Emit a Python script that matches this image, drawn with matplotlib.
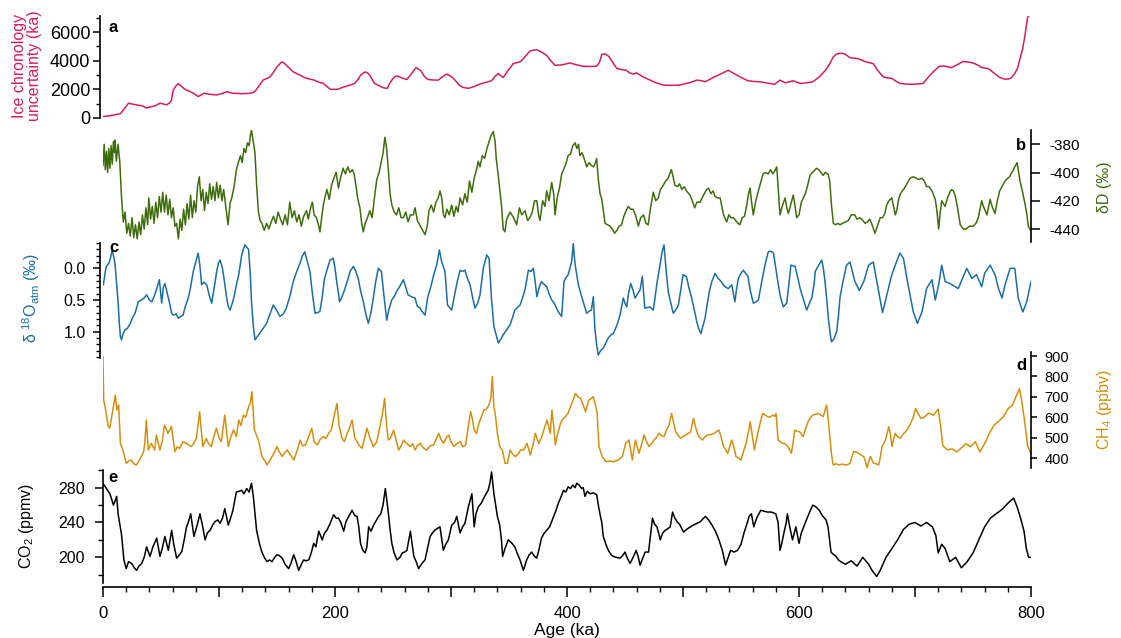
import numpy as np
import matplotlib
matplotlib.use('Agg')
import matplotlib.pyplot as plt
from matplotlib.ticker import MultipleLocator, FixedLocator, FuncFormatter

plt.rcParams['font.family'] = ['Liberation Sans', 'DejaVu Sans']
plt.rcParams['mathtext.default'] = 'regular'
plt.rcParams['axes.unicode_minus'] = False

# ---------------- data ----------------
unc_age = [0, 5, 10, 15, 18, 22, 26, 30, 34, 37.6, 41, 45, 49, 52, 55, 58, 59, 60.6, 63, 65,
           67, 70, 72, 75, 78, 82, 85, 87, 92, 98, 103, 107, 112, 120, 127, 130, 132, 135, 138, 141,
           144, 147, 150, 154, 156, 158, 161, 164, 167, 170, 173, 176, 179, 182, 186, 190, 193, 196, 202, 207,
           213, 217, 220, 222, 226, 228, 230, 232, 234, 238, 242, 245, 247, 249, 252, 255, 258, 262, 266, 270,
           274, 277, 280, 285, 289, 293, 296, 298, 300.6, 304, 307, 310, 315, 320, 325, 330, 335, 338, 340.7, 343,
           345, 349, 353.7, 356, 359.5, 363, 368, 371, 374, 378, 382.5, 386, 389.7, 395, 402.6, 408, 414, 420, 425.6, 428,
           430, 433, 436, 440, 443, 447, 451, 454, 457, 460, 465, 471.5, 477, 483, 490, 497, 505, 512, 516, 519,
           522, 526, 532, 539, 544, 549, 556, 561, 566, 572, 579, 583.6, 588, 592, 595, 601, 606, 612, 618, 624,
           627, 629.5, 632, 635.6, 638, 640, 644, 651, 658, 664, 668, 672.6, 676, 680, 684, 687, 692, 698, 703, 707,
           712, 716, 718.7, 721, 724, 728, 731.6, 736, 741.6, 746, 750, 754, 757.5, 763, 768, 773, 777, 780, 783, 786,
           788.5, 790.5, 793, 795, 797, 797.8]
unc_val = [100, 150, 220, 300, 600, 1035, 960, 900, 850, 690, 780, 850, 1035, 980, 920, 1100, 1265, 1955, 2250, 2400,
           2250, 2050, 1955, 1850, 1725, 1500, 1620, 1725, 1650, 1610, 1720, 1840, 1725, 1700, 1725, 1800, 1955, 2300, 2645, 2750,
           2875, 3200, 3565, 3910, 3850, 3680, 3450, 3220, 3100, 2990, 2850, 2760, 2700, 2645, 2500, 2415, 2200, 2000, 2000, 2150,
           2300, 2415, 2700, 2990, 3220, 3150, 2990, 2700, 2415, 2250, 2100, 2070, 2400, 2645, 2920, 2900, 2780, 2690, 3100, 3520,
           3300, 2900, 2690, 2650, 2645, 2900, 3060, 3000, 2875, 2600, 2300, 2140, 2070, 2200, 2370, 2480, 2600, 2900, 3105, 2950,
           2830, 3300, 3795, 3850, 3910, 4200, 4670, 4740, 4760, 4600, 4370, 4000, 3680, 3700, 3840, 3720, 3610, 3600, 3610, 3900,
           4440, 4470, 4300, 3800, 3450, 3380, 3335, 3150, 3060, 3150, 2900, 2645, 2450, 2300, 2280, 2300, 2450, 2645, 2600, 2530,
           2650, 2830, 3050, 3335, 3100, 2875, 2600, 2550, 2530, 2450, 2350, 2645, 2460, 2530, 2600, 2415, 2450, 2530, 2900, 3450,
           3850, 4255, 4450, 4530, 4500, 4440, 4210, 4140, 3910, 3795, 3300, 2875, 2800, 2760, 2550, 2415, 2370, 2350, 2380, 2415,
           2900, 3250, 3450, 3600, 3635, 3580, 3520, 3700, 3955, 3900, 3840, 3700, 3520, 3450, 3150, 2830, 2720, 2715, 2800, 3105,
           3500, 4140, 4900, 5865, 7015, 7100]

dD_age = [0, 1, 2, 3, 4, 5, 6, 7, 8, 9, 10, 10.5, 11.5, 13, 14.5, 16, 17.5, 19, 20.5, 22,
          23.5, 25, 26.5, 28, 29.5, 31, 32.5, 34, 35.5, 37, 38.5, 39.5, 41, 42.5, 44, 45.5, 47, 48.5, 50, 51.5,
          53, 54.5, 56, 57.5, 59, 60.5, 62, 63.5, 65, 66.5, 68, 69.5, 71, 72.5, 74, 75.5, 77, 78.5, 80, 81.5,
          83, 84.5, 86, 87.5, 89, 90.5, 92, 93.5, 95, 96.5, 98, 99.5, 101, 102.5, 104, 106, 107.8, 109.5, 111, 113,
          115, 117, 118.5, 120, 121.5, 123, 124.5, 126, 127, 128, 129.5, 131, 132.5, 134, 135.5, 137, 139, 141, 143, 145,
          147, 149, 151, 153, 155, 157, 159, 161, 163, 165, 167, 169, 171, 173, 175.5, 177, 179, 180.5, 182, 184,
          186, 187, 188.5, 190, 191.5, 193, 195, 197, 199, 201, 203, 205, 207, 209, 211, 213, 215, 216.5, 218, 219.5,
          221.5, 223, 224.4, 226, 228, 230, 232, 234, 236, 238, 240, 241.5, 243, 244.5, 246, 247.5, 249, 251, 253, 255,
          257, 259, 261, 263, 265, 267.5, 269, 271, 273, 275, 277.6, 279.5, 281, 283, 285, 287, 289, 290.5, 292, 293.5,
          294.8, 296.5, 298.5, 300.6, 302.5, 304.5, 306, 307.8, 310, 312, 314, 316, 318, 320, 322, 323.5, 325, 327, 329, 331,
          333.6, 335, 336.5, 338, 339, 341, 343.7, 345, 346.5, 348, 351, 354, 356.6, 359, 361, 363.8, 366, 368, 370, 372,
          374, 375.5, 376.7, 379, 381, 382.5, 384.5, 386.8, 388.5, 389.7, 391.5, 393.5, 395.4, 397, 399, 401, 403, 405, 407, 408.5,
          410, 411, 413, 415.5, 417, 419, 421, 423, 424.5, 425.6, 427, 428.5, 430, 431.5, 432.8, 435, 437, 439, 441, 443,
          445, 447, 449, 451, 452.8, 455, 457, 459, 461.5, 463.5, 466, 468, 470, 472, 474.4, 476.5, 478.7, 480.5, 483, 485,
          487.3, 489, 490, 491.5, 493, 495.5, 497, 499, 501, 503, 506, 508, 510, 512, 514.7, 517, 519, 520.5, 522, 524,
          526, 527.6, 530, 532, 533.5, 535, 536.5, 537.7, 539.5, 541.5, 543.4, 545.5, 547.5, 549, 551, 553, 555, 556.5, 557.8, 559,
          560.6, 562.5, 565, 567, 569, 571, 573.5, 575.5, 577.5, 579, 580.8, 581.5, 583.6, 585.5, 588, 589.5, 590.8, 592.5, 595, 596.5,
          598, 600, 602, 603.7, 605.5, 607.5, 609.5, 611.5, 613, 615, 617, 619, 620.9, 622.5, 625, 626.5, 628, 629.6, 631.5, 633.5,
          635.4, 637.5, 640, 642.5, 645, 648, 650, 652.6, 655, 657, 659, 661, 663, 665.5, 667.5, 670, 672, 674, 675.6, 677.5,
          680, 681.5, 683, 684.5, 685.6, 687, 689, 691, 693, 695.7, 698.6, 701, 703, 706, 708, 710, 712, 714.6, 716, 717.5,
          719, 720.4, 721.5, 723, 724.5, 726, 728, 730, 731.6, 733, 734.5, 736.5, 739, 741.6, 744, 747, 750, 752.5, 754.6, 756,
          757.5, 759, 762, 763.5, 764.7, 766.5, 769, 771, 773, 775, 777.6, 780, 781.5, 783.4, 785, 786, 788, 789, 790.5, 792.5,
          795, 796.5, 797.7, 799, 800]
dD_val = [-395, -380, -398, -385, -400, -383, -397, -381, -394, -378, -386, -377, -392, -380, -393, -418, -435, -428, -443, -436,
          -445, -432, -446, -437, -447, -435, -444, -430, -440, -425, -437, -418, -433, -424, -436, -421, -432, -417, -428, -414,
          -428, -416, -430, -419, -432, -425, -438, -436, -447, -433, -441, -426, -437, -422, -433, -416, -432, -420, -428, -410,
          -403, -420, -412, -427, -414, -422, -408, -419, -410, -420, -407, -418, -409, -420, -412, -425, -437, -422, -418, -410,
          -398, -392, -388, -393, -383, -386, -379, -381, -374, -370, -378, -386, -410, -428, -434, -436, -441, -436, -440, -435,
          -431, -436, -428, -433, -437, -430, -437, -421, -432, -427, -435, -430, -438, -431, -427, -433, -425, -421, -430, -432,
          -438, -442, -432, -423, -417, -412, -419, -409, -404, -400, -411, -403, -397, -401, -396, -400, -398, -401, -409, -418,
          -425, -436, -442, -436, -432, -427, -432, -418, -405, -400, -392, -386, -375, -383, -398, -415, -423, -428, -430, -425,
          -432, -432, -428, -435, -430, -430, -425, -434, -437, -440, -444, -438, -427, -423, -428, -421, -418, -413, -418, -430,
          -432, -426, -430, -423, -431, -424, -428, -418, -423, -415, -421, -406, -414, -404, -398, -392, -396, -388, -390, -383,
          -376, -373, -371, -378, -390, -404, -425, -440, -442, -433, -428, -432, -437, -425, -430, -427, -434, -432, -428, -420,
          -420, -430, -434, -420, -424, -413, -420, -407, -415, -430, -418, -411, -401, -398, -394, -388, -387, -381, -379, -383,
          -380, -388, -386, -392, -396, -393, -395, -396, -393, -390, -405, -415, -419, -428, -436, -437, -438, -440, -443, -441,
          -438, -437, -431, -427, -424, -426, -426, -430, -438, -432, -430, -436, -437, -425, -414, -420, -418, -412, -409, -406,
          -404, -400, -398, -403, -409, -410, -408, -412, -410, -413, -416, -420, -425, -421, -421, -417, -414, -412, -411, -415,
          -413, -417, -418, -418, -424, -430, -433, -435, -430, -432, -432, -434, -436, -437, -432, -431, -423, -415, -411, -420,
          -430, -421, -413, -407, -401, -400, -401, -398, -401, -399, -396, -404, -430, -424, -418, -425, -429, -424, -416, -423,
          -432, -430, -421, -418, -415, -409, -402, -400, -399, -397, -398, -400, -402, -400, -401, -406, -423, -436, -437, -436,
          -437, -436, -435, -434, -430, -430, -433, -432, -434, -436, -435, -433, -437, -443, -438, -432, -432, -429, -423, -420,
          -418, -424, -430, -426, -420, -416, -413, -411, -408, -404, -403, -404, -405, -404, -406, -410, -410, -413, -416, -419,
          -428, -440, -430, -420, -422, -424, -418, -414, -412, -413, -416, -424, -437, -440, -440, -438, -438, -436, -432, -426,
          -420, -424, -430, -424, -419, -424, -429, -420, -413, -410, -406, -404, -403, -400, -398, -396, -393, -398, -406, -413,
          -423, -430, -438, -440, -441]

d18O_age = [0.3, 2, 3, 5, 6, 8, 9, 10.3, 11.5, 13, 14, 15, 16, 17, 19, 21, 23, 25.5, 27.6, 29,
            30.5, 33, 35.5, 37.6, 40, 42, 44, 46, 48.6, 50.6, 52, 53.4, 55.5, 57.8, 59, 60.6, 63, 65, 67, 69,
            71, 73.5, 75.5, 77.8, 80, 82, 83.5, 85, 87, 89.4, 91.5, 93.7, 95.5, 98, 99.5, 100.9, 103, 105, 106.6, 108,
            109.5, 111.5, 113, 115, 117, 119.6, 121, 122.4, 124, 125.5, 127, 128, 129.5, 131, 133, 135, 138, 141, 144, 146.8,
            149.5, 152.6, 155.5, 158, 161, 164, 167, 169.8, 172, 174, 176, 178.4, 180.5, 182.8, 185, 187, 189, 191, 193.5, 195.7,
            198.5, 200, 201.5, 204, 206, 208.6, 211, 213, 215.8, 218, 220, 222, 224.4, 226.5, 228.7, 231, 233, 235, 237.3, 240,
            242, 244.6, 246.5, 248.9, 251, 253, 256, 259, 261, 263, 266, 269, 271, 273, 275, 277.6, 280, 282.5, 284.7, 287.6,
            290, 292, 294.8, 297, 300.6, 303.4, 305.5, 307.8, 310, 312, 314, 316.4, 318.5, 320.7, 323, 325, 327.8, 330.8, 332.8, 335,
            337, 340.8, 343, 345, 348, 351, 353, 355, 359.5, 362, 364, 366.7, 369, 371, 372.5, 374, 376, 378, 380, 382.5,
            384.5, 386.8, 389, 391, 393, 395.4, 396.5, 397.4, 399, 401, 402.5, 404, 405.4, 406.5, 407.5, 409.8, 412, 414, 417, 419,
            421, 422.7, 424, 425.5, 427, 429, 431.3, 433.5, 435.6, 438, 440, 443, 445.7, 448.5, 450, 451.5, 453, 455, 457, 458.6,
            461, 463, 465, 467, 469, 471.5, 474.4, 476, 477.3, 480, 482, 483.6, 485.3, 487.3, 489.5, 491.6, 494, 496, 498, 500,
            503, 505, 507.5, 510, 511.8, 513.5, 515.5, 517, 519, 521, 523, 525, 527.6, 530.4, 532.5, 534.7, 537, 539, 542, 544.8,
            546, 547.7, 550, 552, 554, 556, 558, 560.6, 563, 565, 567, 569, 571, 573.5, 576, 578, 580, 582, 584, 586.5,
            589.4, 591, 593, 596.6, 599, 601, 604, 606.6, 609, 611, 613, 614, 617, 619.6, 621, 622.4, 624, 625.3, 627, 628,
            630, 632.5, 634, 635.4, 638, 641, 644, 648, 652, 656, 660, 664, 668, 672, 676, 680, 684, 687, 690, 694,
            698.6, 702, 706, 710, 714.6, 717.5, 720.4, 723, 726, 730, 737.3, 741.6, 744.6, 749, 753, 757.5, 760, 764.7, 769, 772,
            775, 777.6, 782, 786, 789, 793, 796.3, 800]
d18O_val = [0.26, 0.05, -0.03, -0.08, -0.13, -0.29, -0.2, -0.08, 0.2, 0.53, 0.85, 1.08, 1.13, 1.05, 0.97, 0.95, 0.89, 0.78, 0.71, 0.62,
            0.53, 0.5, 0.47, 0.42, 0.5, 0.53, 0.45, 0.34, 0.18, 0.55, 0.3, 0.24, 0.4, 0.58, 0.7, 0.74, 0.72, 0.79, 0.76, 0.74,
            0.6, 0.47, 0.3, 0.05, -0.1, -0.24, -0.05, 0.26, 0.22, 0.26, 0.42, 0.55, 0.35, 0.05, -0.08, -0.13, 0.0, 0.25, 0.47, 0.6,
            0.66, 0.55, 0.45, 0.26, 0.1, -0.21, -0.3, -0.37, -0.33, -0.3, 0.1, 0.53, 0.9, 1.13, 1.08, 1.03, 0.95, 0.87, 0.72, 0.58,
            0.66, 0.76, 0.72, 0.63, 0.45, 0.21, 0.05, -0.08, -0.2, -0.26, -0.12, 0.05, 0.4, 0.71, 0.7, 0.68, 0.45, 0.16, 0.0, -0.13,
            -0.16, 0.0, 0.21, 0.53, 0.45, 0.32, 0.18, 0.05, -0.03, 0.05, 0.16, 0.35, 0.53, 0.72, 0.87, 0.7, 0.47, 0.22, 0.0, 0.05,
            0.4, 0.82, 0.65, 0.5, 0.45, 0.37, 0.28, 0.18, 0.3, 0.42, 0.45, 0.47, 0.6, 0.62, 0.68, 0.74, 0.45, 0.3, 0.13, -0.05,
            -0.29, -0.1, 0.05, 0.58, 0.66, 0.39, 0.2, 0.03, 0.05, 0.03, 0.15, 0.26, 0.45, 0.63, 0.55, 0.42, 0.0, -0.21, -0.16, 0.5,
            0.92, 1.18, 1.12, 1.05, 0.97, 0.89, 0.78, 0.66, 0.58, 0.45, 0.32, 0.03, 0.05, 0.0, 0.2, 0.45, 0.3, 0.21, 0.25, 0.29,
            0.4, 0.5, 0.55, 0.63, 0.7, 0.76, 0.45, 0.21, 0.15, 0.1, 0.0, -0.1, -0.39, -0.15, 0.0, 0.26, 0.4, 0.53, 0.71, 0.68,
            0.66, 0.45, 0.95, 1.2, 1.37, 1.3, 1.26, 1.18, 1.1, 1.05, 1.03, 0.9, 0.74, 0.47, 0.55, 0.61, 0.4, 0.24, 0.35, 0.47,
            0.4, 0.34, 0.13, 0.63, 0.62, 0.61, 0.66, 0.45, 0.26, -0.03, -0.26, -0.37, 0.0, 0.37, 0.55, 0.71, 0.65, 0.58, 0.35, 0.1,
            0.13, 0.3, 0.47, 0.68, 0.84, 0.95, 1.03, 0.92, 0.79, 0.55, 0.34, 0.2, 0.08, 0.16, 0.2, 0.26, 0.3, 0.32, 0.26, 0.53,
            0.35, 0.16, 0.08, 0.03, 0.08, 0.13, 0.35, 0.55, 0.53, 0.5, 0.3, 0.1, -0.08, -0.26, -0.27, -0.24, 0.0, 0.24, 0.45, 0.61,
            0.55, 0.3, -0.05, -0.03, 0.15, 0.32, 0.5, 0.66, 0.55, 0.47, 0.25, 0.05, -0.05, -0.13, 0.0, 0.21, 0.5, 0.79, 1.05, 1.16,
            1.12, 1.0, 0.75, 0.45, 0.2, -0.05, -0.1, 0.2, 0.35, 0.2, -0.05, -0.1, 0.3, 0.7, 0.4, 0.1, -0.1, -0.24, -0.16, 0.26,
            0.69, 0.87, 0.69, 0.32, 0.18, 0.5, 0.26, -0.05, 0.21, 0.24, 0.32, 0.13, 0.0, 0.16, 0.1, 0.29, 0.08, -0.05, 0.1, 0.32,
            0.47, 0.26, 0.0, 0.0, 0.47, 0.69, 0.53, 0.21]

ch4_age = [0, 0.6, 2.3, 4.3, 5.7, 8, 10.6, 12, 13.5, 15, 17.2, 20, 22, 24.4, 26.5, 28.7, 31, 33, 35, 36,
           37.4, 39, 41.7, 44.6, 46, 49, 51, 53, 56, 59, 62, 64, 66, 69, 72, 76, 78, 80.5, 83.3, 86,
           89, 91, 93.4, 95.5, 97.7, 100, 102, 105, 108, 110, 112.6, 115, 117, 119, 121, 123, 125.6, 127, 128.4, 130.5,
           134, 137, 139, 141.4, 143.5, 145.7, 148, 150, 152, 154.5, 156.5, 158.8, 161, 164.5, 167, 170, 172, 174.6, 177, 180,
           182, 184.7, 187, 190, 192, 194.5, 197, 199, 201.7, 203.5, 206, 208, 210, 212, 214.7, 217, 219, 221, 223.4, 225.5,
           227.6, 230, 233, 236, 239, 241, 242.8, 244.5, 246, 248, 250.6, 253, 255, 257, 259, 262, 265, 267, 269, 271,
           273.5, 276, 279, 282, 285, 287, 289.4, 291.5, 293.7, 296, 298, 300, 302.5, 305, 308, 310, 312.6, 315.5, 317, 318.5,
           320, 322, 324, 326, 328.4, 330.5, 332.7, 334.5, 335.6, 337, 338.5, 340, 342, 344.3, 346.6, 348.6, 351, 353, 355.5, 358,
           360, 362.6, 365.5, 368.4, 370.5, 372.7, 375.6, 378, 380, 382.8, 385.6, 387, 388.5, 390, 392, 394.4, 396.5, 398.7, 401, 403,
           405, 407.3, 409.5, 411.6, 414, 416, 418.8, 420.5, 422.6, 424.5, 426, 427.5, 430.4, 433.3, 437, 440.5, 444, 447.7, 450.6, 453.4,
           456.3, 459, 462, 464, 466.4, 468.5, 470.7, 473, 475, 477, 479.3, 481.5, 483.6, 486, 488, 490.2, 492, 493.7, 496, 498,
           500, 502.3, 504.5, 506.6, 509, 510.5, 512.4, 514.5, 516.8, 519, 521, 524, 527, 529, 531, 533, 535, 536.8, 538.5, 540,
           542, 544, 545.7, 548, 550, 552, 554.4, 556.5, 558, 559.5, 561.5, 563, 564.4, 566.5, 568.7, 571, 573, 575, 577.3, 579,
           580.2, 582, 584, 586, 588, 590.5, 592, 593.4, 595, 596.3, 598.5, 600.6, 603.5, 605.5, 607.8, 610, 612, 614, 616.5, 619,
           620.9, 623.8, 625, 626.6, 628, 629.5, 632, 634, 637, 639.7, 642, 644, 647, 649, 651.5, 653.5, 655.7, 657, 658.6, 660,
           661.5, 663, 664.4, 666.5, 668.7, 670, 671.6, 673, 674.5, 676, 677.4, 679, 680.2, 681.5, 683, 685, 687.5, 689.5, 691.8, 694,
           696.2, 698.5, 700.5, 702.5, 705, 708, 712, 716, 720, 722, 724, 728, 732, 736, 740, 744, 748, 752, 756, 760,
           764, 768, 772, 776, 780, 784, 787, 790, 792, 795, 797, 800]
ch4_val = [897, 684, 635, 562, 546, 619, 709, 635, 660, 472, 439, 374, 385, 390, 372, 366, 385, 407, 430, 472,
           586, 439, 472, 439, 513, 439, 480, 562, 521, 554, 431, 455, 447, 480, 472, 456, 470, 496, 627, 456,
           496, 470, 456, 505, 546, 500, 480, 611, 456, 500, 538, 505, 586, 560, 611, 600, 652, 670, 725, 538,
           488, 407, 390, 366, 385, 407, 430, 456, 430, 407, 425, 439, 420, 390, 430, 488, 460, 464, 500, 546,
           480, 464, 490, 505, 495, 521, 540, 600, 668, 560, 497, 480, 513, 540, 586, 500, 480, 460, 448, 500,
           546, 500, 456, 480, 562, 620, 693, 560, 488, 500, 537, 480, 439, 460, 488, 470, 456, 470, 439, 460,
           472, 450, 439, 460, 464, 490, 521, 490, 472, 500, 513, 480, 456, 470, 480, 455, 464, 578, 627, 590,
           537, 520, 570, 600, 635, 640, 660, 700, 799, 652, 600, 521, 456, 439, 374, 374, 439, 420, 407, 420,
           440, 439, 472, 415, 460, 521, 472, 500, 537, 586, 521, 635, 560, 464, 520, 570, 590, 603, 620, 652,
           680, 717, 700, 693, 660, 627, 684, 690, 701, 660, 619, 456, 407, 382, 385, 382, 390, 407, 472, 488,
           390, 488, 423, 460, 513, 480, 456, 470, 488, 500, 521, 510, 505, 540, 562, 619, 570, 529, 510, 497,
           505, 513, 520, 529, 595, 560, 521, 500, 488, 505, 513, 515, 521, 530, 537, 500, 456, 440, 423, 450,
           488, 450, 407, 400, 390, 430, 472, 530, 578, 520, 439, 480, 521, 570, 619, 610, 603, 600, 611, 605,
           619, 488, 480, 472, 470, 456, 440, 423, 480, 537, 530, 529, 505, 540, 578, 600, 611, 615, 619, 610,
           603, 660, 600, 505, 420, 366, 372, 366, 370, 366, 368, 374, 431, 430, 423, 415, 407, 390, 350, 380,
           407, 390, 374, 372, 366, 400, 456, 470, 488, 520, 554, 510, 456, 490, 521, 505, 497, 515, 529, 545,
           570, 600, 643, 620, 595, 600, 620, 610, 640, 560, 460, 440, 445, 430, 450, 470, 455, 480, 430, 470,
           520, 560, 580, 600, 640, 660, 700, 740, 680, 560, 460, 420]

co2_age = [0, 3, 6, 9, 10.5, 11.8, 13, 14.5, 16, 18, 20, 22, 24.7, 27, 29, 31, 33.4, 35.5, 37.6, 40.5,
           43, 46.3, 49.1, 51, 53.4, 56.3, 59.2, 61, 63.5, 66, 68, 70, 72, 73.5, 75.6, 78.4, 81, 83.6, 86, 88,
           90, 92.3, 94.5, 96.6, 99, 100.9, 103, 105, 108, 110, 112, 113.5, 115, 117.5, 119.6, 121.5, 123.9, 126, 128, 129.6,
           131, 132.4, 135, 137, 139, 141.4, 143.5, 145.7, 148, 150, 152, 154.5, 157, 160, 162, 164.4, 166.5, 168.7, 171, 173,
           175, 177.4, 179.5, 181.6, 183.5, 186, 189, 191, 193, 195.5, 198.8, 201, 203, 205, 207.5, 209.5, 211.8, 214.7, 217, 219,
           220.5, 222, 224, 226, 227.5, 229, 231, 233.3, 235.5, 237.6, 239.5, 241.4, 243.4, 245, 246.3, 247.5, 249, 251, 253.4, 256,
           258, 260, 262, 265, 266.5, 268, 270, 272, 273, 275, 277.6, 280, 282, 284, 286, 288, 290.5, 293.4, 295.5, 297.7,
           300.6, 303, 305, 307.8, 310, 312, 315, 318, 320, 321.5, 323.6, 326, 329, 332, 333.5, 335, 336, 337, 338.5, 340,
           342, 343.5, 344.5, 346.5, 349.4, 352, 355, 357, 359.5, 362.4, 365.2, 367.5, 369.5, 371.5, 373.9, 376, 378, 380, 382.4, 385,
           388, 390, 392.5, 395, 397, 399, 401, 403, 405, 407, 408.3, 410.5, 412.6, 414, 415.5, 417.5, 419.8, 422.5, 425.6, 427,
           428.4, 430, 431.3, 433.5, 435.6, 438, 440, 442.5, 445.7, 448, 450, 452, 454.4, 457, 459.6, 461.5, 463, 465, 467.4, 470.3,
           472, 473.7, 475.5, 477.5, 479, 480.4, 482.5, 484.7, 487, 489, 491, 493, 494.8, 497, 500.5, 503, 506.3, 509, 512, 515,
           517, 519.4, 522, 525, 528, 531, 533.9, 536.7, 539, 541, 544, 547, 550, 552.6, 555, 557, 559, 561, 563.5, 567,
           570, 572.7, 576, 580, 582, 583.6, 585, 587, 589, 590, 592, 594.4, 596, 597.3, 600, 602, 604.6, 607, 609.5, 611.8,
           614.5, 617.5, 620, 623.3, 625, 627.6, 630, 632, 634, 636, 640, 645, 650, 655, 660, 663, 667, 670, 675, 680,
           685, 690, 695, 700, 705, 710, 715, 718, 720, 723, 726, 730, 735, 740, 745, 750, 755, 760, 765, 770,
           775, 780, 785, 788, 791, 794, 796, 798, 800]
co2_val = [285, 279, 273, 260, 265, 270, 250, 238, 226, 197, 187, 195, 193, 188, 185, 190, 193, 200, 212, 201,
           212, 222, 201, 210, 224, 208, 231, 215, 199, 203, 207, 220, 235, 240, 250, 224, 236, 250, 235, 220,
           228, 231, 237, 241, 243, 239, 245, 256, 237, 245, 254, 265, 275, 276, 277, 273, 279, 275, 285, 270,
           250, 231, 215, 206, 200, 195, 197, 195, 200, 203, 202, 199, 192, 187, 193, 203, 195, 185, 192, 197,
           196, 197, 205, 216, 212, 230, 220, 228, 231, 238, 249, 245, 245, 240, 230, 241, 247, 254, 248, 247,
           235, 216, 208, 205, 212, 235, 230, 237, 242, 247, 250, 260, 279, 262, 247, 232, 216, 205, 197, 200,
           205, 206, 208, 230, 215, 201, 195, 187, 189, 193, 197, 212, 224, 228, 231, 233, 235, 208, 215, 220,
           237, 240, 247, 228, 235, 239, 258, 273, 235, 250, 258, 262, 270, 277, 285, 298, 285, 273, 260, 247,
           237, 220, 201, 210, 220, 217, 212, 205, 197, 185, 197, 203, 206, 202, 199, 210, 222, 227, 231, 235,
           245, 252, 262, 270, 277, 275, 281, 279, 283, 280, 285, 283, 279, 280, 270, 276, 273, 274, 272, 260,
           250, 240, 224, 215, 208, 203, 201, 200, 199, 202, 206, 199, 193, 200, 208, 200, 191, 198, 206, 206,
           225, 245, 238, 235, 228, 220, 228, 231, 233, 235, 252, 245, 241, 238, 229, 232, 235, 237, 239, 241,
           244, 247, 243, 237, 230, 220, 208, 191, 200, 208, 206, 208, 215, 228, 238, 247, 250, 235, 245, 254,
           253, 252, 252, 250, 240, 208, 215, 228, 240, 250, 235, 220, 228, 235, 216, 228, 237, 245, 253, 260,
           258, 254, 248, 243, 235, 206, 203, 201, 197, 195, 192, 196, 190, 200, 192, 185, 178, 185, 200, 210,
           220, 232, 238, 240, 236, 240, 235, 225, 205, 215, 210, 195, 200, 188, 195, 205, 220, 235, 245, 250,
           255, 262, 268, 258, 245, 230, 210, 200, 200]

# ---------------- layout ----------------
W, H = 1121, 638
red = '#d81d5c'
green = '#3e6e0c'
blue = '#1a6ea3'
gold = '#d4900d'


def rect(top, bottom, left=103, right=1031):
    return [left / W, 1 - bottom / H, (right - left) / W, (bottom - top) / H]


def style(ax, side, size, pad):
    ax.set_facecolor('none')
    ax.set_xlim(0, 800)
    for s in ['top', 'bottom', 'left', 'right']:
        ax.spines[s].set_visible(s == side)
        ax.spines[s].set_linewidth(1.2)
    ax.tick_params(axis='x', which='both', bottom=False, labelbottom=False)
    if side == 'right':
        ax.yaxis.tick_right()
        ax.tick_params(axis='y', which='both', left=False, labelleft=False)
    ax.tick_params(axis='y', which='major', length=5, width=1.1, pad=pad, labelsize=size)
    ax.tick_params(axis='y', which='minor', length=2.8, width=1.0)


fig = plt.figure(figsize=(W / 100, H / 100), dpi=100)

# a : ice chronology uncertainty
ax_a = fig.add_axes(rect(16, 118))
style(ax_a, 'left', 13, 2)
ax_a.spines['left'].set_position(('outward', 2))
ax_a.plot(unc_age, unc_val, color=red, lw=1.1)
ax_a.set_ylim(0, 7120)
ax_a.yaxis.set_major_locator(FixedLocator([0, 2000, 4000, 6000]))
ax_a.yaxis.set_minor_locator(FixedLocator([1000, 3000, 5000, 7000]))

# b : deuterium
ax_b = fig.add_axes(rect(130, 242))
style(ax_b, 'right', 11, 6.5)
ax_b.plot(dD_age, dD_val, color=green, lw=1.1)
ax_b.set_ylim(-449.2, -369.9)
ax_b.yaxis.set_major_locator(FixedLocator([-440, -420, -400, -380]))
ax_b.tick_params(axis='y', which='major', length=6.5)

# c : d18O atm (inverted)
ax_c = fig.add_axes(rect(243, 358))
style(ax_c, 'left', 11.5, 5.5)
ax_c.spines['left'].set_position(('outward', 2))
ax_c.plot(d18O_age, d18O_val, color=blue, lw=1.1)
ax_c.set_ylim(1.417, -0.40)
ax_c.yaxis.set_major_locator(FixedLocator([0.0, 0.5, 1.0]))
ax_c.yaxis.set_minor_locator(MultipleLocator(0.1))
ax_c.yaxis.set_major_formatter(FuncFormatter(lambda v, p: '%.1f' % v))

# d : methane
ax_d = fig.add_axes(rect(352, 468))
style(ax_d, 'right', 10.5, 5)
ax_d.plot(ch4_age, ch4_val, color=gold, lw=1.1)
ax_d.set_ylim(351, 920)
ax_d.yaxis.set_major_locator(MultipleLocator(100))
ax_d.tick_params(axis='y', which='major', length=4.5)

# e : CO2
ax_e = fig.add_axes(rect(470, 583))
style(ax_e, 'left', 11.5, 7)
ax_e.plot(co2_age, co2_val, color='black', lw=1.1)
ax_e.set_ylim(170.5, 300.3)
ax_e.yaxis.set_major_locator(FixedLocator([200, 240, 280]))
ax_e.yaxis.set_minor_locator(FixedLocator([180, 220, 260, 300]))
ax_e.tick_params(axis='y', which='major', length=6)
ax_e.tick_params(axis='y', which='minor', length=3.5)
ax_e.spines['bottom'].set_visible(True)
ax_e.spines['bottom'].set_position(('outward', 2.7))
ax_e.tick_params(axis='x', which='both', bottom=True, labelbottom=True)
ax_e.xaxis.set_major_locator(MultipleLocator(100))
ax_e.xaxis.set_minor_locator(MultipleLocator(20))
ax_e.xaxis.set_major_formatter(FuncFormatter(lambda v, p: '%d' % v if int(round(v)) % 200 == 0 else ''))
ax_e.tick_params(axis='x', which='major', length=7.5, width=1.1, pad=6, labelsize=12)
ax_e.tick_params(axis='x', which='minor', length=3.8, width=1.0)

fig.text(567 / W, 1 - 630 / H, 'Age (ka)', fontsize=12.5, ha='center', va='center')

# axis titles
fig.text(27 / W, 1 - 66 / H, 'Ice chronology\nuncertainty (ka)', color=red, rotation=90,
         ha='center', va='center', fontsize=11.5, linespacing=1.0)
fig.text(1105 / W, 1 - 187 / H, 'δD (‰)', color=green, rotation=90,
         ha='center', va='center', fontsize=11.5)
fig.text(31 / W, 1 - 298 / H, 'δ $^{18}$O$_{atm}$ (‰)', color=blue, rotation=90,
         ha='center', va='center', fontsize=11.5)
fig.text(1105 / W, 1 - 410 / H, 'CH$_4$ (ppbv)', color=gold, rotation=90,
         ha='center', va='center', fontsize=11.5)
fig.text(27 / W, 1 - 526 / H, 'CO$_2$ (ppmv)', color='black', rotation=90,
         ha='center', va='center', fontsize=11.5)

# panel letters
for lx, ly, s in [(113.5, 27.5, 'a'), (1021, 145.5, 'b'), (113.5, 247, 'c'),
                  (1021, 366, 'd'), (113, 477.5, 'e')]:
    fig.text(lx / W, 1 - ly / H, s, fontsize=12, fontweight='bold', ha='center', va='center')

fig.savefig('out.png', dpi=100)
